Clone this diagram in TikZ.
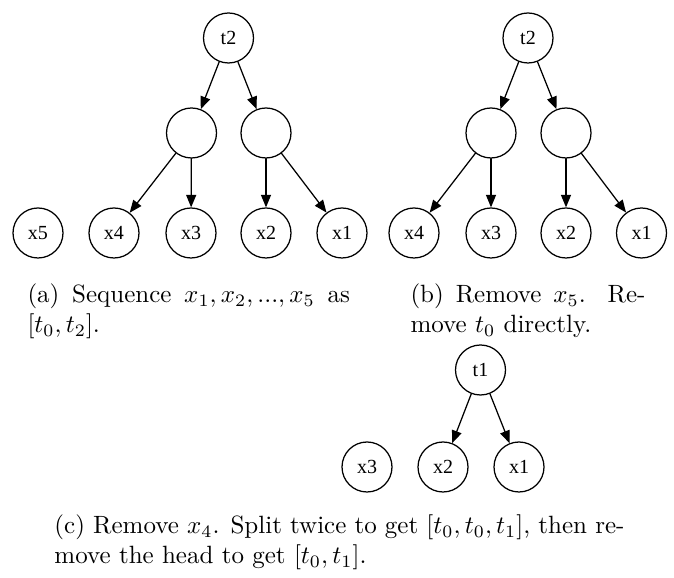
\documentclass[tikz,border=0pt]{standalone}
\usepackage{fontspec}
\newfontfamily\nodefont{Liberation Serif}
\usetikzlibrary{arrows.meta}
\begin{document}
\begin{tikzpicture}[x=0.4pt, y=-0.4pt, line cap=round, line join=round,
    >={Triangle[length=5pt, width=4pt]},
    vertex/.style={circle, draw, line width=0.5pt, minimum size=20pt, inner sep=0pt,
      font=\nodefont\fontsize{8}{9}\selectfont},
    edge/.style={->, line width=0.5pt},
    caption/.style={anchor=base west, inner sep=0pt, align=justify}]
  % Frame in reference pixels
  \useasboundingbox (0,0) rectangle (674,578);
  % Row heights of the two upper trees
  \def\ytop{38} \def\ymid{133} \def\ybot{233}

  % (a) Five leaves under t2
  \node[vertex] (at2) at (228.5,\ytop) {t2};
  \node[vertex] (al) at (191.5,\ymid) {};
  \node[vertex] (ar) at (266,\ymid) {};
  \node[vertex] (ax5) at (38,\ybot) {x5};
  \node[vertex] (ax4) at (114,\ybot) {x4};
  \node[vertex] (ax3) at (191,\ybot) {x3};
  \node[vertex] (ax2) at (266,\ybot) {x2};
  \node[vertex] (ax1) at (342,\ybot) {x1};
  \draw[edge] (at2) -- (al);
  \draw[edge] (at2) -- (ar);
  \draw[edge] (al) -- (ax4);
  \draw[edge] (al) -- (ax3);
  \draw[edge] (ar) -- (ax2);
  \draw[edge] (ar) -- (ax1);

  % (b) x5 removed
  \node[vertex] (bt2) at (528,\ytop) {t2};
  \node[vertex] (bl) at (491,\ymid) {};
  \node[vertex] (br) at (566,\ymid) {};
  \node[vertex] (bx4) at (414,\ybot) {x4};
  \node[vertex] (bx3) at (491,\ybot) {x3};
  \node[vertex] (bx2) at (566,\ybot) {x2};
  \node[vertex] (bx1) at (641.5,\ybot) {x1};
  \draw[edge] (bt2) -- (bl);
  \draw[edge] (bt2) -- (br);
  \draw[edge] (bl) -- (bx4);
  \draw[edge] (bl) -- (bx3);
  \draw[edge] (br) -- (bx2);
  \draw[edge] (br) -- (bx1);

  % Captions of (a) and (b)
  \node[caption, text width=129pt] (capa) at (27,303)
    {(a) Sequence $x_1, x_2, ..., x_5$ as\linebreak $[t_0, t_2]$.};
  \node[caption, text width=94pt] (capb) at (410,303)
    {(b) Remove $x_5$. Re-\linebreak move $t_0$ directly.};

  % (c) x4 removed, split twice
  \node[vertex] (ct1) at (480.5,370) {t1};
  \node[vertex] (cx3) at (367,467) {x3};
  \node[vertex] (cx2) at (443,467) {x2};
  \node[vertex] (cx1) at (519,467) {x1};
  \draw[edge] (ct1) -- (cx2);
  \draw[edge] (ct1) -- (cx1);

  \node[caption, text width=228pt] (capc) at (54,534)
    {(c) Remove $x_4$. Split twice to get $[t_0, t_0, t_1]$, then re-\linebreak move the head to get $[t_0, t_1]$.};
\end{tikzpicture}
\end{document}
